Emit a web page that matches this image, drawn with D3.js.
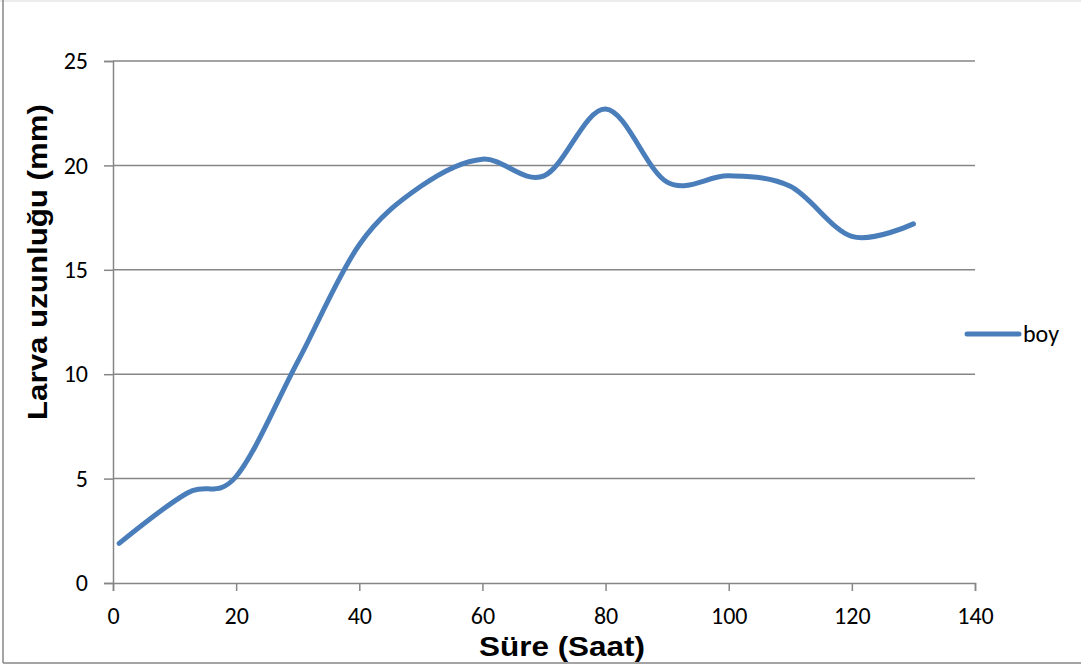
<!DOCTYPE html>
<html><head><meta charset="utf-8">
<script src="https://cdn.jsdelivr.net/npm/d3@7"></script>
<style>body{margin:0;background:#fff}svg{display:block}</style>
</head><body>
<script>
const hours = [1, 12, 20, 30, 40, 50, 60, 70, 80, 90, 100, 110, 120, 130];
const boy   = [1.9, 4.3, 5.1, 10.6, 16.2, 19.0, 20.3, 19.5, 22.7, 19.2, 19.5, 19.0, 16.6, 17.2];
const xTicks = [0, 20, 40, 60, 80, 100, 120, 140];
const yTicks = [0, 5, 10, 15, 20, 25];
const seriesName = "boy";
const xTitle = "Süre (Saat)";
const yTitle = "Larva uzunluğu (mm)";

const W = 1081, H = 670;
const svg = d3.select("body").append("svg").attr("width", W).attr("height", H);
const x = d3.scaleLinear().domain([0, 140]).range([113, 975]);
const y = d3.scaleLinear().domain([0, 25]).range([583, 61]);
const tickFont = "Carlito, Calibri, 'Liberation Sans', Arial, sans-serif";

// frame
svg.append("line").attr("x1", 0).attr("x2", W).attr("y1", 1).attr("y2", 1).attr("stroke", "#d9d9d9").attr("stroke-width", 1);
svg.append("line").attr("x1", 3).attr("x2", 3).attr("y1", 0).attr("y2", 663).attr("stroke", "#868686").attr("stroke-width", 1.5);
svg.append("line").attr("x1", 3).attr("x2", W).attr("y1", 663).attr("y2", 663).attr("stroke", "#868686").attr("stroke-width", 1.5);

// gridlines
svg.append("g").selectAll("line").data(yTicks.filter(d => d > 0)).join("line")
  .attr("x1", x(0)).attr("x2", x(140)).attr("y1", d => y(d)).attr("y2", d => y(d))
  .attr("stroke", "#868686").attr("stroke-width", 1.5);

// y axis
const yAxis = svg.append("g").attr("transform", `translate(${x(0)},0)`)
  .call(d3.axisLeft(y).tickValues(yTicks).tickSize(9).tickPadding(16).tickFormat(d3.format("d")));
yAxis.select(".domain").attr("stroke", "#868686").attr("stroke-width", 1.5);
yAxis.selectAll(".tick line").attr("stroke", "#868686").attr("stroke-width", 1.5);
yAxis.selectAll("text").attr("font-family", tickFont).attr("font-size", 24).attr("fill", "#000");

// x axis
const xAxis = svg.append("g").attr("transform", `translate(0,${y(0)})`)
  .call(d3.axisBottom(x).tickValues(xTicks).tickSize(8).tickFormat(d3.format("d")));
xAxis.select(".domain").attr("stroke", "#868686").attr("stroke-width", 1.5);
xAxis.selectAll(".tick line").attr("stroke", "#868686").attr("stroke-width", 1.5);
xAxis.selectAll("text").attr("font-family", tickFont).attr("font-size", 24).attr("fill", "#000")
  .attr("y", 41).attr("dy", null);

// line
const pts = hours.map((h, i) => [h, boy[i]]);
svg.append("path").datum(pts)
  .attr("d", d3.line().x(d => x(d[0])).y(d => y(d[1])).curve(d3.curveCardinal.tension(0)))
  .attr("fill", "none").attr("stroke", "#4a7ebb").attr("stroke-width", 5).attr("stroke-linecap", "round");

// titles
svg.append("text").attr("x", 562).attr("y", 656).attr("text-anchor", "middle")
  .attr("font-family", "'Liberation Sans', Arial, sans-serif").attr("font-weight", "bold").attr("font-size", 28)
  .attr("textLength", 166).attr("lengthAdjust", "spacingAndGlyphs")
  .text(xTitle);
svg.append("text").attr("transform", "translate(47,262) rotate(-90)").attr("text-anchor", "middle")
  .attr("font-family", "'Liberation Sans', Arial, sans-serif").attr("font-weight", "bold").attr("font-size", 27)
  .attr("textLength", 316).attr("lengthAdjust", "spacingAndGlyphs")
  .text(yTitle);

// legend
svg.append("line").attr("x1", 967).attr("x2", 1019).attr("y1", 334).attr("y2", 334)
  .attr("stroke", "#4a7ebb").attr("stroke-width", 5).attr("stroke-linecap", "round");
svg.append("text").attr("x", 1023).attr("y", 342).attr("font-family", tickFont).attr("font-size", 24).text(seriesName);
</script>
</body></html>
